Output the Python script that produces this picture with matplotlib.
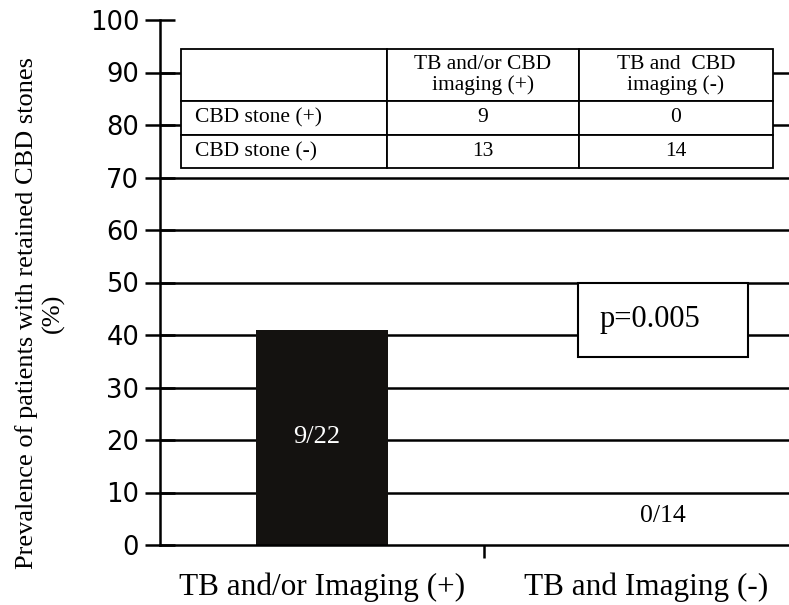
import matplotlib.pyplot as plt
from matplotlib.patches import Rectangle

# data
categories = ["TB and/or Imaging (+)", "TB and Imaging (-)"]
prevalence = [40.9, 0.0]
bar_labels = ["9/22", "0/14"]

table_cols = ["", "TB and/or CBD\nimaging (+)", "TB and  CBD\nimaging (-)"]
table_rows = ["CBD stone (+)", "CBD stone (-)"]
table_vals = [[9, 0], [13, 14]]
p_text = "p=0.005"

serif = ["Liberation Serif", "DejaVu Serif"]

fig = plt.figure(figsize=(7.89, 6.05), dpi=100)
ax = fig.add_axes([160 / 789, 60 / 605, 648 / 789, 525 / 605])

x = list(range(len(categories)))
ax.bar(x, prevalence, width=0.41, color="#141210", zorder=3)

ax.set_xlim(-0.5, 1.5)
ax.set_ylim(0, 100)

# horizontal grid lines 10..90
for y in range(10, 100, 10):
    ax.axhline(y, color="black", lw=1.8, zorder=1)

ax.spines["top"].set_visible(False)
ax.spines["right"].set_visible(False)
ax.spines["left"].set_linewidth(1.8)
ax.spines["bottom"].set_linewidth(1.8)
ax.spines["bottom"].set_zorder(4)

ax.set_yticks(range(0, 101, 10))
ax.tick_params(axis="y", direction="inout", length=22, width=1.8,
               labelsize=18.5, pad=4)
for lab in ax.get_yticklabels():
    lab.set_fontfamily("DejaVu Sans")

ax.set_xticks(x)
ax.set_xticklabels(categories, fontfamily=serif, fontsize=22.5)
ax.tick_params(axis="x", length=0, pad=20)
ax.set_xticks([0.5], minor=True)
ax.tick_params(axis="x", which="minor", direction="out", length=9, width=1.8)

fig.text(40 / 789, 1 - 313 / 605,
         "Prevalence of patients with retained CBD stones\n(%)",
         rotation=90, ha="center", va="center", multialignment="center",
         fontfamily="Liberation Serif", fontsize=19, linespacing=1.25)

# labels on bars
ax.text(-0.015, 20.5, bar_labels[0], color="white", ha="center", va="center",
        fontfamily=serif, fontsize=19, zorder=5)
ax.text(1.053, 5.5, bar_labels[1], color="black", ha="center", va="center",
        fontfamily=serif, fontsize=18.5, zorder=5)

# p value box
ax.add_patch(Rectangle((0.79, 35.8), 0.525, 14.1, facecolor="white",
                       edgecolor="black", lw=1.5, zorder=5))
ax.text(1.012, 43.0, p_text, ha="center", va="center", fontfamily=serif,
        fontsize=22, zorder=6)

# contingency table
cell_text = [[table_rows[i]] + [str(v) for v in table_vals[i]]
             for i in range(len(table_rows))]
tbl = ax.table(cellText=[table_cols] + cell_text,
               colWidths=[0.348, 0.324, 0.328],
               bbox=[0.0324, 0.718, 0.9136, 0.227], zorder=6)
tbl.auto_set_font_size(False)
row_h = [0.437, 0.286, 0.277]
for (r, c), cell in tbl.get_celld().items():
    cell.set_height(row_h[r])
    cell.set_linewidth(1.3)
    cell.set_facecolor("white")
    t = cell.get_text()
    t.set_fontfamily(serif)
    t.set_fontsize(15.5)
    t.set_linespacing(1.05)
    if c == 0 and r > 0:
        cell.PAD = 0.07
        t.set_ha("left")
    else:
        t.set_ha("center")

fig.savefig("out.png", dpi=100)
